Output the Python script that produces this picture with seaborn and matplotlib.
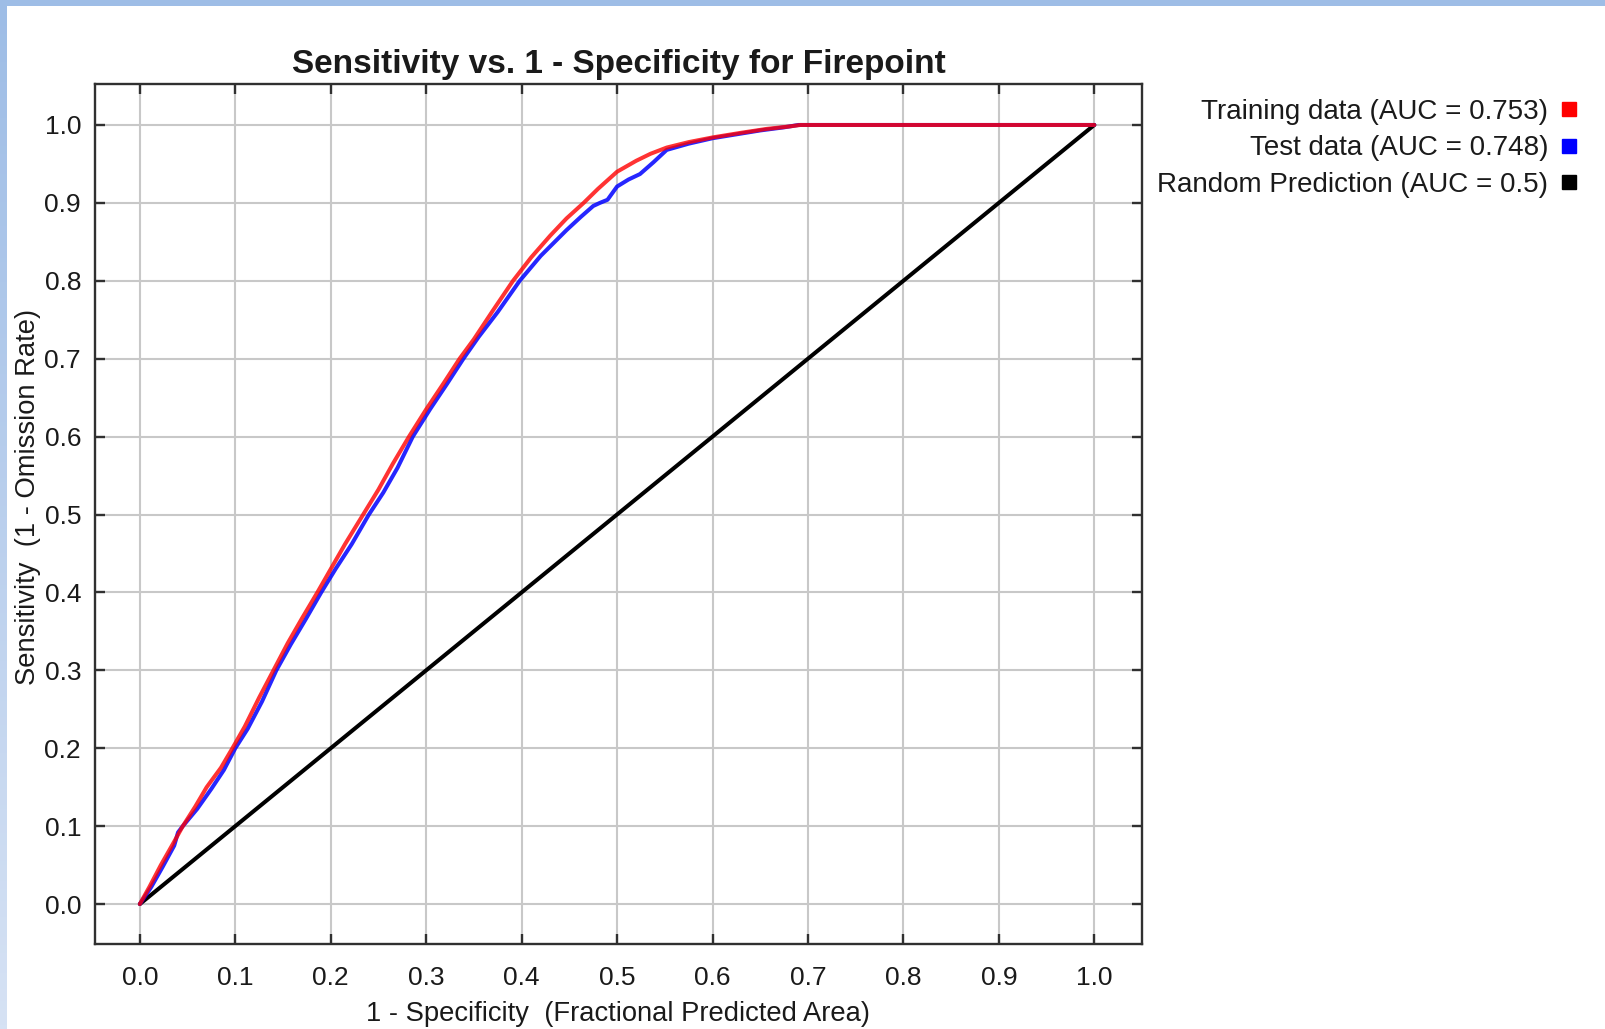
import numpy as np
import pandas as pd
import matplotlib
matplotlib.use("Agg")
import matplotlib.pyplot as plt
from matplotlib.lines import Line2D
from matplotlib.patches import Rectangle
import seaborn as sns

# ROC curve for the Firepoint model: fraction of predicted area vs. sensitivity
train_fpr = [0.0, 0.01, 0.022, 0.035, 0.045, 0.058, 0.07, 0.085, 0.097, 0.11,
             0.125, 0.14, 0.155, 0.17, 0.186, 0.2, 0.215, 0.234, 0.25, 0.265,
             0.282, 0.3, 0.318, 0.335, 0.35, 0.37, 0.391, 0.41, 0.43, 0.447,
             0.465, 0.48, 0.5, 0.52, 0.535, 0.552, 0.575, 0.6, 0.63, 0.657,
             0.68, 0.692, 1.0]
train_tpr = [0.0, 0.022, 0.05, 0.078, 0.1, 0.125, 0.15, 0.175, 0.2, 0.228,
             0.265, 0.3, 0.335, 0.367, 0.4, 0.43, 0.462, 0.5, 0.532, 0.565,
             0.6, 0.635, 0.668, 0.7, 0.725, 0.762, 0.8, 0.83, 0.858, 0.88,
             0.9, 0.918, 0.94, 0.954, 0.963, 0.971, 0.978, 0.984, 0.99, 0.995,
             0.998, 1.0, 1.0]

test_fpr = [0.0, 0.012, 0.024, 0.036, 0.04, 0.045, 0.06, 0.075, 0.088, 0.1,
            0.113, 0.128, 0.143, 0.158, 0.174, 0.19, 0.205, 0.222, 0.24, 0.255,
            0.27, 0.286, 0.304, 0.322, 0.339, 0.355, 0.375, 0.398, 0.42, 0.447,
            0.462, 0.475, 0.482, 0.49, 0.5, 0.512, 0.524, 0.538, 0.552, 0.575,
            0.6, 0.625, 0.65, 0.675, 0.69, 1.0]
test_tpr = [0.0, 0.022, 0.048, 0.075, 0.092, 0.1, 0.122, 0.148, 0.172, 0.2,
            0.225, 0.26, 0.3, 0.333, 0.366, 0.4, 0.43, 0.462, 0.5, 0.528,
            0.56, 0.6, 0.635, 0.668, 0.7, 0.728, 0.76, 0.8, 0.832, 0.865,
            0.882, 0.896, 0.9, 0.904, 0.921, 0.93, 0.937, 0.952, 0.968, 0.976,
            0.983, 0.988, 0.993, 0.997, 1.0, 1.0]

random_fpr = [0.0, 1.0]
random_tpr = [0.0, 1.0]

series_labels = ["Training data (AUC = 0.753)",
                 "Test data (AUC = 0.748)",
                 "Random Prediction (AUC = 0.5)"]
series_colors = ["#ff0000", "#0000ff", "#000000"]

tick_values = [0.0, 0.1, 0.2, 0.3, 0.4, 0.5, 0.6, 0.7, 0.8, 0.9, 1.0]
tick_labels = ["0.0", "0.1", "0.2", "0.3", "0.4", "0.5", "0.6", "0.7", "0.8", "0.9", "1.0"]

title_text = "Sensitivity vs. 1 - Specificity for Firepoint"
xlabel_text = "1 - Specificity  (Fractional Predicted Area)"
ylabel_text = "Sensitivity  (1 - Omission Rate)"

sns.set_theme(style="whitegrid")
plt.rcParams["font.family"] = ["Liberation Sans", "DejaVu Sans"]
text_color = "#1a1a1a"

W, H = 1606, 1029
fig = plt.figure(figsize=(W / 100, H / 100), dpi=100, facecolor="white")

# window frame: blue strip on top, fading strip on the left
fig.patches.append(Rectangle((0, 1 - 6 / H), 1, 6 / H, transform=fig.transFigure,
                             facecolor="#9ebde6", edgecolor="none", zorder=0))
bar_ax = fig.add_axes([0, 0, 7 / W, 1 - 6 / H])
top_rgb = np.array([0x9e, 0xbd, 0xe6]) / 255
bot_rgb = np.array([0xd6, 0xe2, 0xf4]) / 255
grad = np.linspace(0, 1, 256)[:, None, None] * (bot_rgb - top_rgb) + top_rgb
bar_ax.imshow(grad, aspect="auto", extent=[0, 1, 0, 1])
bar_ax.set_axis_off()

left, right, top, bottom = 95, 1142, 84, 944
ax = fig.add_axes([left / W, 1 - bottom / H, (right - left) / W, (bottom - top) / H])
ax.set_facecolor("white")

train_df = pd.DataFrame({"fpr": train_fpr, "tpr": train_tpr})
test_df = pd.DataFrame({"fpr": test_fpr, "tpr": test_tpr})
rand_df = pd.DataFrame({"fpr": random_fpr, "tpr": random_tpr})

sns.lineplot(data=rand_df, x="fpr", y="tpr", ax=ax, color=series_colors[2],
             linewidth=2.9, estimator=None, sort=False, zorder=3)
sns.lineplot(data=test_df, x="fpr", y="tpr", ax=ax, color=series_colors[1],
             linewidth=2.9, estimator=None, sort=False, alpha=0.85, zorder=4)
sns.lineplot(data=train_df, x="fpr", y="tpr", ax=ax, color=series_colors[0],
             linewidth=2.9, estimator=None, sort=False, alpha=0.8, zorder=5)

ax.set_xlim(-0.047, 1.050)
ax.set_ylim(-0.0513, 1.0526)
ax.set_xticks(tick_values)
ax.set_xticklabels(tick_labels)
ax.set_yticks(tick_values)
ax.set_yticklabels(tick_labels)

ax.grid(True, color="#c8c8c8", linewidth=1.5)
ax.set_axisbelow(True)
for sp in ax.spines.values():
    sp.set_visible(True)
    sp.set_color("#303030")
    sp.set_linewidth(1.7)

ax.tick_params(axis="both", which="major", direction="in", length=7, width=1.7,
               color="#303030", top=True, right=True, bottom=True, left=True,
               labelsize=19, labelcolor=text_color)
ax.tick_params(axis="x", pad=16)
ax.tick_params(axis="y", pad=10)

ax.set_title(title_text, fontsize=24, fontweight="bold", color=text_color,
             pad=0, y=1 + (top - 64.5) / (bottom - top), va="center")
ax.set_xlabel(xlabel_text, fontsize=19.7, color=text_color)
ax.xaxis.set_label_coords(0.5, (bottom - 1014) / (bottom - top))
ax.xaxis.label.set_va("center")
ax.set_ylabel(ylabel_text, fontsize=19.7, color=text_color)
ax.yaxis.set_label_coords((28 - left) / (right - left), 0.52)
ax.yaxis.label.set_va("center")

handles = [Line2D([], [], linestyle="none", marker="s", markersize=9.5,
                  markerfacecolor=c, markeredgecolor=c) for c in series_colors]
leg = ax.legend(handles, series_labels, loc="upper right",
                bbox_to_anchor=(1576 / W, 1 - 99 / H), bbox_transform=fig.transFigure,
                markerfirst=False, frameon=False, fontsize=20, handlelength=0.5,
                handletextpad=0.5, labelspacing=0.37, borderpad=0, borderaxespad=0)
for t in leg.get_texts():
    t.set_color(text_color)

fig.savefig("out.png", dpi=100, facecolor="white")
